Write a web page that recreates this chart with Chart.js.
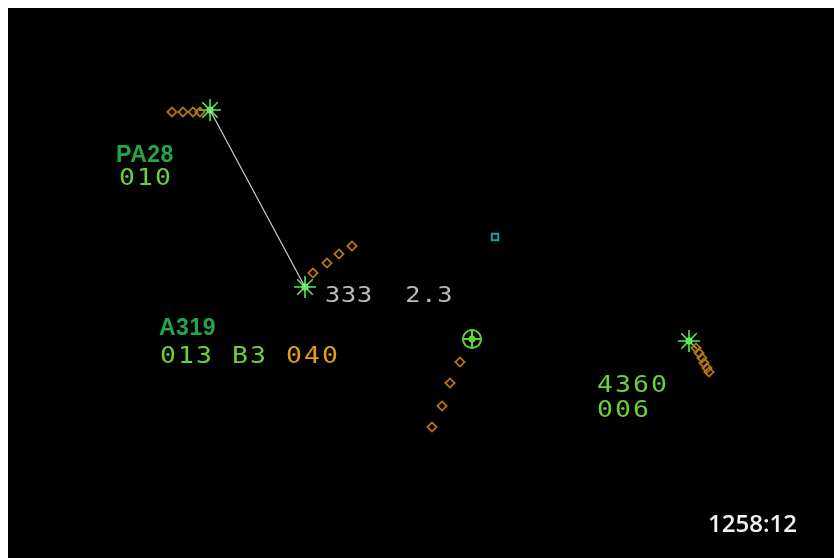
<!DOCTYPE html>
<html>
<head>
<meta charset="utf-8">
<script src="https://cdn.jsdelivr.net/npm/chart.js@4.4.1/dist/chart.umd.min.js"></script>
<style>
  html, body { margin: 0; padding: 0; background: #fff; }
  #wrap { width: 834px; height: 558px; }
</style>
</head>
<body>
<div id="wrap"><canvas id="scope" width="834" height="558"></canvas></div>
<script>
// screen coordinates of the radar picture (px of the original display)
const starTargets = [{ x: 210, y: 110 }, { x: 305, y: 287 }, { x: 689, y: 341 }];
const primaryTargets = [{ x: 472, y: 339 }];
const fixMarks = [{ x: 495, y: 237 }];

const historyPA28 = [{ x: 172, y: 112 }, { x: 183, y: 112 }, { x: 193, y: 112 }, { x: 200, y: 112 }];
const historyA319 = [{ x: 313, y: 273 }, { x: 327, y: 263 }, { x: 339, y: 254 }, { x: 352, y: 246 }];
const historyPrimary = [{ x: 460, y: 362 }, { x: 450, y: 383 }, { x: 442, y: 406 }, { x: 432, y: 427 }];
const history4360 = [{ x: 696, y: 348 }, { x: 699, y: 353 }, { x: 702, y: 358 }, { x: 704, y: 363 }, { x: 707, y: 368 }, { x: 709, y: 372 }];

const rangeLine = [{ x: 210, y: 110 }, { x: 305, y: 287 }];

// data blocks: text, anchor (left / baseline), kind
const blockTexts = ['PA28', '010', 'A319', '013 B3', '040', '333  2.3', '4360', '006', '1258:12'];
const blockAnchors = [
  { x: 116, y: 162 }, { x: 119, y: 185 },
  { x: 159, y: 335 }, { x: 160, y: 363 }, { x: 286, y: 363 },
  { x: 325, y: 302 },
  { x: 597, y: 392 }, { x: 597, y: 417 },
  { x: 708, y: 532 },
];
const blockKinds = ['callsign', 'level', 'callsign', 'level', 'cleared', 'range', 'level', 'level', 'clock'];

const styles = {
  callsign: { font: 'bold 23px "Liberation Sans", Arial, sans-serif', color: '#22a64c', spacing: '0.5px', sx: 1 },
  level: { font: '23px "DejaVu Sans Mono", monospace', color: '#69d23a', spacing: '1.8px', sx: 1.15 },
  cleared: { font: '23px "DejaVu Sans Mono", monospace', color: '#e39c18', spacing: '1.8px', sx: 1.15 },
  range: { font: '22px "DejaVu Sans Mono", monospace', color: '#bdbdbd', spacing: '0.7px', sx: 1.15 },
  clock: { font: '600 24px "Open Sans", sans-serif', color: '#f2f2f2', spacing: '0px', sx: 1 },
};

function primarySymbol() {
  const c = document.createElement('canvas');
  c.width = 24; c.height = 24;
  const g = c.getContext('2d');
  g.strokeStyle = '#58d83c';
  g.fillStyle = '#58d83c';
  g.lineWidth = 2;
  g.beginPath(); g.arc(12, 12, 9, 0, Math.PI * 2); g.stroke();
  g.beginPath(); g.moveTo(12, 3); g.lineTo(12, 21); g.moveTo(3, 12); g.lineTo(21, 12); g.stroke();
  g.beginPath(); g.arc(12, 12, 3.5, 0, Math.PI * 2); g.fill();
  return c;
}

const scopeBackground = {
  id: 'scopeBackground',
  beforeDraw(chart) {
    const { ctx, width, height } = chart;
    ctx.save();
    ctx.fillStyle = '#ffffff';
    ctx.fillRect(0, 0, width, height);
    ctx.fillStyle = '#000000';
    ctx.fillRect(8, 8, width - 8, height - 8);
    ctx.restore();
  },
};

const dataBlocks = {
  id: 'dataBlocks',
  afterDatasetsDraw(chart) {
    const { ctx, scales } = chart;
    ctx.textBaseline = 'alphabetic';
    ctx.textAlign = 'left';
    blockTexts.forEach((text, i) => {
      const s = styles[blockKinds[i]];
      ctx.save();
      ctx.font = s.font;
      ctx.fillStyle = s.color;
      ctx.letterSpacing = s.spacing;
      ctx.translate(scales.x.getPixelForValue(blockAnchors[i].x), scales.y.getPixelForValue(blockAnchors[i].y));
      ctx.scale(s.sx, 1);
      ctx.fillText(text, 0, 0);
      ctx.restore();
    });
  },
};

const history = (data) => ({
  data,
  pointStyle: 'rectRot',
  pointRadius: 4.6,
  borderWidth: 1.8,
  borderColor: '#b8740c',
  backgroundColor: 'rgba(0,0,0,0)',
  showLine: false,
});

new Chart(document.getElementById('scope'), {
  type: 'scatter',
  data: {
    datasets: [
      {
        type: 'line',
        data: rangeLine,
        borderColor: '#cfcfcf',
        borderWidth: 1.2,
        pointRadius: 0,
        fill: false,
      },
      history(historyPA28),
      history(historyA319),
      history(historyPrimary),
      history(history4360),
      {
        data: fixMarks,
        pointStyle: 'rect',
        pointRadius: 4.5,
        borderWidth: 2,
        borderColor: '#18a3a3',
        backgroundColor: 'rgba(0,0,0,0)',
      },
      {
        data: primaryTargets,
        pointStyle: primarySymbol(),
      },
      {
        data: starTargets,
        pointStyle: 'star',
        pointRadius: 11,
        borderWidth: 1.6,
        borderColor: '#57e957',
        backgroundColor: '#57e957',
      },
      {
        data: starTargets,
        pointStyle: 'circle',
        pointRadius: 3.5,
        borderWidth: 0,
        backgroundColor: '#8cff6c',
      },
    ],
  },
  plugins: [scopeBackground, dataBlocks],
  options: {
    responsive: false,
    animation: false,
    layout: { padding: 0, autoPadding: false },
    scales: {
      x: { type: 'linear', min: 0, max: 834, display: false },
      y: { type: 'linear', min: 0, max: 558, reverse: true, display: false },
    },
    plugins: {
      legend: { display: false },
      tooltip: { enabled: false },
    },
  },
});
</script>
</body>
</html>
